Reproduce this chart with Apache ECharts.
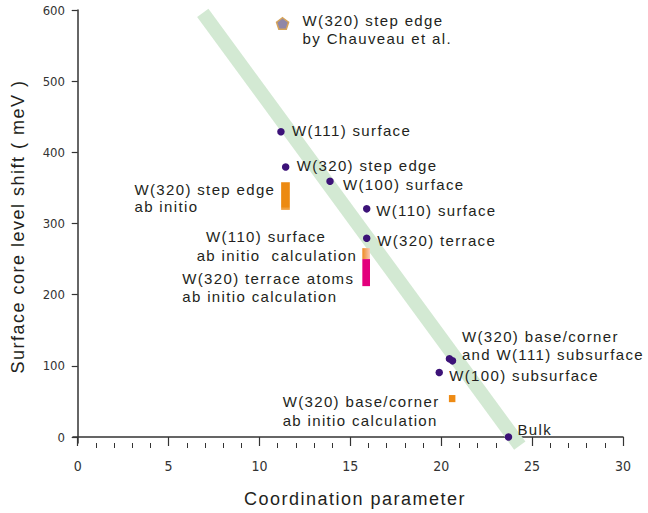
<!DOCTYPE html>
<html><head><meta charset="utf-8">
<script src="https://cdn.jsdelivr.net/npm/echarts@6/dist/echarts.min.js"></script>
<style>
html,body{margin:0;padding:0;background:#fff;}
#main{width:648px;height:513px;}
#main text[style*="15px"]{letter-spacing:1.35px;}
#main text[style*="18px"]{letter-spacing:1.5px;}
</style></head><body><div id="main"></div>
<script>
// ---------- data ----------
const pointNames = ['W(111) surface', 'W(320) step edge', 'W(100) surface', 'W(110) surface', 'W(320) terrace',
  'W(320) base/corner\nand W(111) subsurface', '', 'W(100) subsurface', 'Bulk'];
const pointX = [11.18, 11.44, 13.88, 15.9, 15.9, 20.62, 20.45, 19.89, 23.7];
const pointY = [429, 379.5, 359.3, 320.6, 279.4, 107, 110, 90.7, 0];

const refNames = ['W(320) step edge\nby Chauveau et al.'];
const refX = [11.27];
const refY = [581];

const barLabels = [
  ['W(320) step edge', 'ab initio'],
  ['W(110) surface', 'ab initio  calculation'],
  ['W(320) terrace atoms', 'ab initio calculation'],
  ['W(320) base/corner', 'ab initio calculation']
];
const barX = [11.43, 15.87, 15.87, 20.6];
const barLow = [319, 250, 212, 49];
const barHigh = [358, 265.4, 250, 59];

const trendX = [6.88, 24.32];
const trendY = [596, -12];

const xTicks = [0, 5, 10, 15, 20, 25, 30];
const xMinorTicks = [1,2,3,4,6,7,8,9,11,12,13,14,16,17,18,19,21,22,23,24,26,27,28,29];
const yTicks = [0, 100, 200, 300, 400, 500, 600];

// ---------- layout / style ----------
const FONT = '"Liberation Sans", Arial, sans-serif';
const TXT = '#231f20';
const AX = '#333333';
const pointLabelOffsets = [[11,-1],[11,-1],[13,3],[9.5,2],[10.5,2],[9.4,-15.7],[0,0],[10,2.7],[9,-8]];
const refLabelOffsets = [[20,6]];
const barWidths = [8.7, 7.7, 7.7, 6.5];
const barFills = [
  new echarts.graphic.LinearGradient(0,0,0,1,[{offset:0,color:'#ec8a12'},{offset:0.88,color:'#ec8a12'},{offset:1,color:'#f2b060'}]),
  new echarts.graphic.LinearGradient(0,0,1,0,[{offset:0,color:'#ee8a22'},{offset:1,color:'#f9cbb6'}]),
  '#e3007d',
  '#ee8b14'
];
const barLabelOffsets = [
  [[-151, 7.3], [-151, 24.6]],
  [[-160.2, -11.4], [-169.5, 7]],
  [[-183.9, 19.7], [-183.9, 37.4]],
  [[-169.5, 6.3], [-169.5, 25.7]]
];

const chart = echarts.init(document.getElementById('main'), null, {renderer: 'svg'});

const labelBase = {
  show: true, position: 'inside', align: 'left', verticalAlign: 'middle',
  formatter: '{b}', color: TXT, fontSize: 15, fontFamily: FONT, lineHeight: 18,
  textBorderWidth: 0, opacity: 1
};

const option = {
  animation: false,
  backgroundColor: '#ffffff',
  grid: {left: 73, right: 25, top: 10, bottom: 69, containLabel: false},
  xAxis: [{
    type: 'value', min: -0.26, max: 30, position: 'bottom',
    axisLine: {show: true, lineStyle: {color: AX, width: 1.5}},
    axisTick: {show: true, customValues: xTicks, length: 9, lineStyle: {color: AX, width: 1.2}},
    axisLabel: {customValues: xTicks, margin: 16, fontSize: 14, fontFamily: '"Liberation Sans Narrow", "DejaVu Sans Condensed", sans-serif', color: AX},
    splitLine: {show: false},
    name: 'Coordination parameter', nameLocation: 'middle', nameGap: 47,
    nameTextStyle: {fontSize: 18, fontFamily: FONT, color: TXT, padding: [0, 0, 0, 14]}
  }, {
    type: 'value', min: -0.26, max: 30, position: 'bottom',
    axisLine: {show: false},
    axisTick: {show: true, customValues: xMinorTicks, length: 5, lineStyle: {color: AX, width: 1}},
    axisLabel: {show: false},
    splitLine: {show: false}
  }],
  yAxis: {
    type: 'value', min: -8.4, max: 600,
    axisLine: {show: true, lineStyle: {color: AX, width: 1.5}},
    axisTick: {show: true, customValues: yTicks, length: 6, lineStyle: {color: AX, width: 1.2}},
    axisLabel: {customValues: yTicks, margin: 8, fontSize: 13, fontFamily: '"Liberation Sans Narrow", "DejaVu Sans Condensed", sans-serif', color: AX},
    splitLine: {show: false},
    name: 'Surface core level shift ( meV )', nameLocation: 'middle', nameGap: 46, nameRotate: 90,
    nameTextStyle: {fontSize: 18, fontFamily: FONT, color: TXT}
  },
  series: [
    {
      type: 'line', name: 'trend', z: 1, silent: true,
      data: trendX.map((x, i) => [x, trendY[i]]),
      symbol: 'none',
      lineStyle: {color: '#d3e9d3', width: 14, cap: 'butt', opacity: 1},
      clip: true
    },
    {
      type: 'custom', name: 'ab initio', z: 3,
      data: barX.map((x, i) => [x, barLow[i], barHigh[i]]),
      renderItem: function (params, api) {
        const i = params.dataIndex;
        const x = api.value(0), lo = api.value(1), hi = api.value(2);
        const pTop = api.coord([x, hi]);
        const pBot = api.coord([x, lo]);
        const w = barWidths[i];
        const children = [{
          type: 'rect',
          shape: {x: pTop[0] - w / 2, y: pTop[1], width: w, height: pBot[1] - pTop[1]},
          style: {fill: barFills[i]}
        }];
        barLabels[i].forEach(function (line, k) {
          const off = barLabelOffsets[i][k];
          children.push({
            type: 'text',
            style: {
              text: line, x: pTop[0] + off[0], y: pTop[1] + off[1],
              fill: TXT, font: '15px ' + FONT,
              align: 'left', verticalAlign: 'middle',
              textAlign: 'left', textVerticalAlign: 'middle'
            }
          });
        });
        return {type: 'group', children: children};
      }
    },
    {
      type: 'scatter', name: 'experiment', z: 4,
      symbol: 'circle', symbolSize: 7.5,
      itemStyle: {color: '#3c1278', opacity: 1},
      data: pointX.map((x, i) => ({
        value: [x, pointY[i]], name: pointNames[i],
        label: {offset: pointLabelOffsets[i]}
      })),
      label: labelBase
    },
    {
      type: 'scatter', name: 'Chauveau', z: 4,
      symbol: 'path://M0,-10 L9.51,-3.09 L5.88,8.09 L-5.88,8.09 L-9.51,-3.09 Z',
      symbolSize: [12, 11.5],
      itemStyle: {color: '#8f87a8', borderColor: '#d5a35a', borderWidth: 1.5, opacity: 1},
      data: refX.map((x, i) => ({
        value: [x, refY[i]], name: refNames[i],
        label: {offset: refLabelOffsets[i]}
      })),
      label: labelBase
    }
  ]
};
chart.setOption(option);
</script></body></html>
